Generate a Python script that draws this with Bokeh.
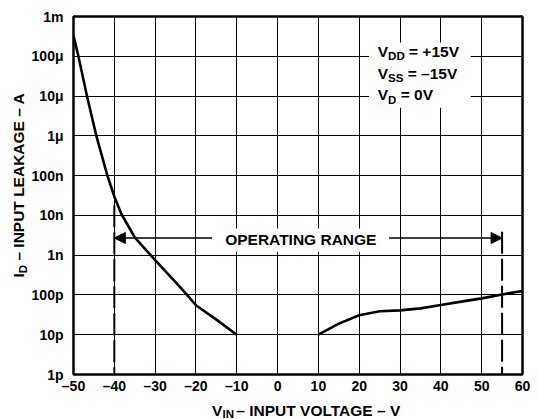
import math
from bokeh.plotting import figure
from bokeh.layouts import row, column
from bokeh.models import Range1d, FixedTicker, Label, Arrow, NormalHead
from bokeh.embed import file_html
from bokeh.resources import INLINE

# ---------------- data ----------------
left_v = [-50.0, -48.8, -46.7, -44.4, -41.7, -40.0, -38.3, -35.0, -30.0, -25.0, -22.5, -20.0, -15.0, -10.0]
left_i = [3.3e-4, 1e-4, 1e-5, 1e-6, 1e-7, 3.0e-8, 1.1e-8, 2.8e-9, 7.5e-10, 2.1e-10, 1.1e-10, 5.5e-11, 2.4e-11, 1e-11]

right_v = [10, 15, 20, 25, 30, 35, 40, 45, 50, 55, 60]
right_i = [1e-11, 1.9e-11, 3.1e-11, 3.9e-11, 4.1e-11, 4.6e-11, 5.6e-11, 6.8e-11, 8.2e-11, 1.03e-10, 1.26e-10]

x_ticks = [-50, -40, -30, -20, -10, 0, 10, 20, 30, 40, 50, 60]
x_tick_labels = ["\u201350", "\u201340", "\u201330", "\u201320", "\u201310", "0",
                 "10", "20", "30", "40", "50", "60"]
y_ticks = [1e-12, 1e-11, 1e-10, 1e-9, 1e-8, 1e-7, 1e-6, 1e-5, 1e-4, 1e-3]
y_tick_labels = ["1p", "10p", "100p", "1n", "10n", "100n", "1\u03bc", "10\u03bc", "100\u03bc", "1m"]

range_limits = [-40, 55]          # operating range limits (V)
range_dash_tops = [1.8e-8, 3.9e-9]
range_arrow_level = 2.7e-9

# white boxes behind the annotations (decoration)
legend_box = dict(left=22.4, right=47.3, top=2.22e-4, bottom=5.06e-6)
range_box = dict(left=-16.05, right=27.3, top=4.7e-9, bottom=1.22e-9)

FONT = "Liberation Sans"
MAIN, SUB = 15.5, 11.5


def base_fix(size):
    # the renderer centres "alphabetic" text on the given point; lift by ~cap centre
    return 0.39 * size


# ---------------- main chart ----------------
p = figure(width=511, height=396, output_backend="svg", toolbar_location=None,
           x_range=Range1d(-50, 60), y_range=Range1d(1e-12, 1e-3), y_axis_type="log",
           min_border_left=45, min_border_right=17, min_border_top=16, min_border_bottom=22)
p.background_fill_color = "white"
p.border_fill_color = "white"
p.outline_line_color = "black"
p.outline_line_width = 2.5

p.xaxis.ticker = FixedTicker(ticks=x_ticks)
p.yaxis.ticker = FixedTicker(ticks=y_ticks)
p.xaxis.major_label_overrides = {t: l for t, l in zip(x_ticks, x_tick_labels)}
p.yaxis.major_label_overrides = {t: l for t, l in zip(y_ticks, y_tick_labels)}
for ax in (p.xaxis, p.yaxis):
    ax.axis_line_color = None
    ax.major_tick_line_color = None
    ax.minor_tick_line_color = None
    ax.major_tick_out = 0
    ax.major_tick_in = 0
    ax.minor_tick_out = 0
    ax.minor_tick_in = 0
    ax.major_label_text_font = FONT
    ax.major_label_text_font_style = "bold"
    ax.major_label_text_font_size = "14px"
    ax.major_label_text_color = "black"
p.xaxis.major_label_standoff = 3
p.yaxis.major_label_standoff = 10

for g in (p.xgrid, p.ygrid):
    g.grid_line_color = "black"
    g.grid_line_width = 1
p.ygrid.minor_grid_line_color = None

# white boxes
p.quad(left=[legend_box["left"]], right=[legend_box["right"]], top=[legend_box["top"]],
       bottom=[legend_box["bottom"]], fill_color="white", line_color=None)
p.quad(left=[range_box["left"]], right=[range_box["right"]], top=[range_box["top"]],
       bottom=[range_box["bottom"]], fill_color="white", line_color=None)

# curves
p.line(left_v, left_i, line_color="black", line_width=2.6, line_join="round")
p.line(right_v, right_i, line_color="black", line_width=2.6, line_join="round")

# dashed operating-range limits
p.segment(x0=range_limits, y0=range_dash_tops, x1=range_limits, y1=[1e-12, 1e-12],
          line_color="black", line_width=2, line_dash="22 5")

# arrows
for xs, xe in ((range_box["left"], range_limits[0]), (range_box["right"], range_limits[1])):
    p.add_layout(Arrow(end=NormalHead(size=11, fill_color="black", line_color="black", line_width=1),
                       x_start=xs, y_start=range_arrow_level,
                       x_end=xe, y_end=range_arrow_level,
                       line_color="black", line_width=1.4))

# text helper for the frame: positions in page pixels, anchored at frame bottom-left
FX0, FY0 = 73.0, 374.0


def ftxt(text, px, py, size, align="left"):
    p.add_layout(Label(x=-50, y=1e-12, x_offset=px - FX0, y_offset=FY0 - (py - base_fix(size)),
                       text=text, text_font=FONT, text_font_style="bold",
                       text_font_size=f"{size}px", text_align=align,
                       text_baseline="alphabetic", text_color="black"))


# legend text (baselines in page pixels)
ftxt("V", 387.6, 57.3, MAIN, align="right")
ftxt("DD", 387.6, 60.3, SUB)
ftxt("= +15V", 408.5, 57.3, MAIN)
ftxt("V", 387.6, 79.0, MAIN, align="right")
ftxt("SS", 387.6, 82.0, SUB)
ftxt("= \u201315V", 407.2, 79.0, MAIN)
ftxt("V", 387.6, 100.5, MAIN, align="right")
ftxt("D", 387.6, 103.5, SUB)
ftxt("= 0V", 400.2, 100.5, MAIN)

# operating range
ftxt("OPERATING RANGE", 300.3, 245.3, MAIN, align="center")


# ---------------- title strips (page pixel coordinates) ----------------
def strip(width, height, x0, x1, y_bottom, y_top):
    f = figure(width=width, height=height, output_backend="svg", toolbar_location=None,
               x_range=Range1d(x0, x1), y_range=Range1d(y_bottom, y_top),
               x_axis_location=None, y_axis_location=None, min_border=0,
               min_border_left=0, min_border_right=0, min_border_top=0, min_border_bottom=0)
    f.grid.visible = False
    f.outline_line_color = None
    f.background_fill_color = "white"
    f.border_fill_color = "white"
    return f


def stxt(f, text, px, py, size, align="left", angle=0.0):
    f.add_layout(Label(x=px, y=py, text=text, text_font=FONT, text_font_style="bold",
                       text_font_size=f"{size}px", text_align=align,
                       text_baseline="alphabetic", angle=angle, text_color="black"))


# y title: rotated, baseline on the right of the glyphs
ystrip = strip(28, 419, 0, 28, 419, 0)
ang = math.pi / 2
stxt(ystrip, "I", 24.0 - base_fix(MAIN), 277.0, MAIN, angle=ang)
stxt(ystrip, "D", 27.0 - base_fix(SUB), 272.7, SUB, angle=ang)
stxt(ystrip, "\u2013 INPUT LEAKAGE \u2013 A", 24.0 - base_fix(MAIN), 260.1, MAIN, angle=ang)

# x title
xstrip = strip(511, 23, 28, 539, 419, 396)
stxt(xstrip, "V", 197.5, 416.0 - base_fix(MAIN), MAIN, align="right")
stxt(xstrip, "IN", 197.5, 418.3 - base_fix(SUB), SUB)
stxt(xstrip, "\u2013 INPUT VOLTAGE \u2013 V", 213.3, 416.0 - base_fix(MAIN), MAIN)

layout = row(ystrip, column(p, xstrip))

open("out.html", "w").write(file_html(layout, INLINE, "chart"))
